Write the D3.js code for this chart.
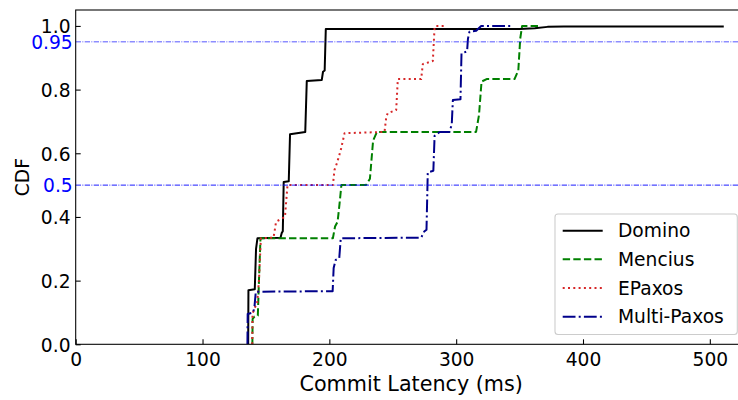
<!DOCTYPE html>
<html>
<head>
<meta charset="utf-8">
<script src="https://cdn.jsdelivr.net/npm/d3@7/dist/d3.min.js"></script>
<style>
  html, body { margin: 0; padding: 0; background: #fff; }
  svg { display: block; font-family: "DejaVu Sans", sans-serif; }
</style>
</head>
<body>
<svg id="chart" width="738" height="400"></svg>
<script>
// Commit latency CDF per protocol: [latency (ms), cumulative fraction]
const seriesNames = ["Domino", "Mencius", "EPaxos", "Multi-Paxos"];

const domino = [
  [136.0, 0], [136.2, 0.170], [141.2, 0.173], [142.2, 0.30], [143.3, 0.333],
  [161.5, 0.335], [162.5, 0.350], [163.3, 0.355], [164.0, 0.510], [168.0, 0.512],
  [169.0, 0.660], [181.0, 0.667], [182.2, 0.827], [194.0, 0.830], [195.0, 0.856],
  [196.3, 0.860], [197.2, 0.990], [350, 0.990], [362, 0.993], [372, 0.997],
  [385, 0.998], [511, 0.998]
];

const mencius = [
  [139.3, 0], [139.5, 0.080], [141.0, 0.087], [143.6, 0.090], [144.5, 0.20],
  [145.7, 0.333], [202.8, 0.333], [204.5, 0.370], [206.5, 0.385], [208.0, 0.44],
  [209.5, 0.500], [229.0, 0.500], [232.0, 0.520], [234.5, 0.640], [237.5, 0.667],
  [315.7, 0.667], [318.0, 0.720], [320.0, 0.825], [324.0, 0.833], [346.0, 0.833],
  [349.0, 0.860], [350.5, 0.960], [352.0, 1.000], [366.0, 1.000]
];

const epaxos = [
  [139.2, 0], [139.4, 0.095], [141.0, 0.115], [143.0, 0.125], [144.5, 0.20],
  [146.0, 0.333], [156.0, 0.335], [158.0, 0.385], [165.0, 0.400], [167.0, 0.500],
  [202.8, 0.500], [204.0, 0.547], [206.0, 0.569], [209.0, 0.610], [212.0, 0.663],
  [243.5, 0.667], [244.9, 0.715], [246.1, 0.726], [252.7, 0.736], [254.0, 0.833],
  [272.4, 0.833], [273.7, 0.880], [281.6, 0.890], [283.0, 0.997], [284.0, 1.000],
  [292.0, 1.000]
];

const multiPaxos = [
  [135.4, 0], [135.6, 0.095], [140.0, 0.100], [141.0, 0.120], [142.0, 0.165],
  [202.6, 0.167], [203.4, 0.240], [205.0, 0.265], [207.8, 0.270], [209.0, 0.333],
  [272.4, 0.335], [274.8, 0.354], [276.6, 0.360], [277.6, 0.540], [282.0, 0.545],
  [283.0, 0.655], [287.0, 0.667], [294.7, 0.667], [296.5, 0.690], [297.4, 0.767],
  [303.4, 0.770], [304.2, 0.914], [308.6, 0.920], [309.3, 0.960], [310.5, 0.982],
  [315.8, 0.985], [319.7, 1.000], [344.0, 1.000]
];

const seriesData = [domino, mencius, epaxos, multiPaxos];

// Percentile guide lines drawn across the plot
const guideLevels = [0.95, 0.5];
const guideLabels = ["0.95", "0.5"];

// Axis ticks
const xTicks = [0, 100, 200, 300, 400, 500];
const yTicks = [0, 0.2, 0.4, 0.6, 0.8, 1.0];

// Drawing styles per series
const styles = {
  "Domino":      { color: "#000000", dash: null },
  "Mencius":     { color: "#008000", dash: "7.4,3.2" },
  "EPaxos":      { color: "#d62728", dash: "2,3.3" },
  "Multi-Paxos": { color: "#00008b", dash: "12.8,3.2,2,3.2" }
};

const svg = d3.select("#chart");
const plot = { left: 75.7, right: 746.6, top: 10, bottom: 344.3 };

const x = d3.scaleLinear().domain([0, 529]).range([plot.left, plot.right]);
const y = d3.scaleLinear().domain([0, 1.05]).range([plot.bottom, plot.top]);

svg.append("defs").append("clipPath").attr("id", "plotClip")
  .append("rect")
  .attr("x", plot.left).attr("y", plot.top)
  .attr("width", plot.right - plot.left).attr("height", plot.bottom - plot.top);

// Series curves
const line = d3.line().x(d => x(d[0])).y(d => y(d[1]));
const curves = svg.append("g").attr("clip-path", "url(#plotClip)");
seriesNames.forEach((name, i) => {
  const st = styles[name];
  curves.append("path")
    .datum(seriesData[i])
    .attr("d", line)
    .attr("fill", "none")
    .attr("stroke", st.color)
    .attr("stroke-width", 2)
    .attr("stroke-linejoin", "round")
    .attr("stroke-dasharray", st.dash);
});

// Guide lines at 0.95 and 0.5
const guides = svg.append("g");
guides.selectAll("line")
  .data(guideLevels)
  .join("line")
  .attr("x1", plot.left).attr("x2", plot.right)
  .attr("y1", d => y(d)).attr("y2", d => y(d))
  .attr("stroke", "#0000ff")
  .attr("stroke-opacity", (d, i) => i === 0 ? 0.75 : 1)
  .attr("stroke-width", 0.9)
  .attr("stroke-dasharray", "5.3,1.4,0.9,1.4");

// Axes
const fontSize = 18.67;
const xAxis = svg.append("g")
  .attr("transform", `translate(0,${plot.bottom})`)
  .call(d3.axisBottom(x).tickValues(xTicks).tickFormat(d3.format("d")).tickSize(-5).tickSizeOuter(0));
xAxis.select(".domain").remove();
xAxis.selectAll(".tick line").attr("stroke", "#000").attr("stroke-width", 1.07);
xAxis.selectAll(".tick text")
  .attr("y", 21.4).attr("dy", null)
  .attr("fill", "#000").style("font-size", fontSize + "px")
  .style("font-family", "'DejaVu Sans', sans-serif");

const yAxis = svg.append("g")
  .attr("transform", `translate(${plot.left},0)`)
  .call(d3.axisLeft(y).tickValues(yTicks).tickFormat(d3.format(".1f")).tickSize(-5).tickSizeOuter(0));
yAxis.select(".domain").remove();
yAxis.selectAll(".tick line").attr("stroke", "#000").attr("stroke-width", 1.07);
yAxis.selectAll(".tick text")
  .attr("x", -5.2).attr("dy", "0.36em")
  .attr("fill", "#000").style("font-size", fontSize + "px")
  .style("font-family", "'DejaVu Sans', sans-serif");

// Guide labels beside the y axis
svg.append("g").selectAll("text")
  .data(guideLevels)
  .join("text")
  .attr("x", 72.7)
  .attr("y", d => y(d))
  .attr("dy", "0.36em")
  .attr("text-anchor", "end")
  .attr("fill", "#0000ff")
  .style("font-size", fontSize + "px")
  .text((d, i) => guideLabels[i]);

// Axes frame
svg.append("rect")
  .attr("x", plot.left).attr("y", plot.top)
  .attr("width", plot.right - plot.left).attr("height", plot.bottom - plot.top)
  .attr("fill", "none").attr("stroke", "#000").attr("stroke-width", 1.07);

// Axis titles
svg.append("text")
  .attr("x", (plot.left + plot.right) / 2).attr("y", 391.3)
  .attr("text-anchor", "middle").attr("fill", "#000")
  .style("font-size", "20.7px")
  .text("Commit Latency (ms)");

svg.append("text")
  .attr("transform", `translate(29,${(plot.top + plot.bottom) / 2}) rotate(-90)`)
  .attr("text-anchor", "middle").attr("fill", "#000")
  .style("font-size", fontSize + "px")
  .text("CDF");

// Legend
const legend = svg.append("g");
legend.append("rect")
  .attr("x", 555).attr("y", 214).attr("width", 182.3).attr("height", 120.5)
  .attr("rx", 3).attr("ry", 3)
  .attr("fill", "#fff").attr("fill-opacity", 0.8)
  .attr("stroke", "#cccccc").attr("stroke-width", 1.07);

seriesNames.forEach((name, i) => {
  const st = styles[name];
  const cy = 230.7 + i * 28.67;
  legend.append("line")
    .attr("x1", 562.7).attr("x2", 602.7).attr("y1", cy).attr("y2", cy)
    .attr("stroke", st.color).attr("stroke-width", 2)
    .attr("stroke-dasharray", st.dash);
  legend.append("text")
    .attr("x", 618).attr("y", cy).attr("dy", "0.36em")
    .attr("fill", "#000").style("font-size", fontSize + "px")
    .text(name);
});
</script>
</body>
</html>
